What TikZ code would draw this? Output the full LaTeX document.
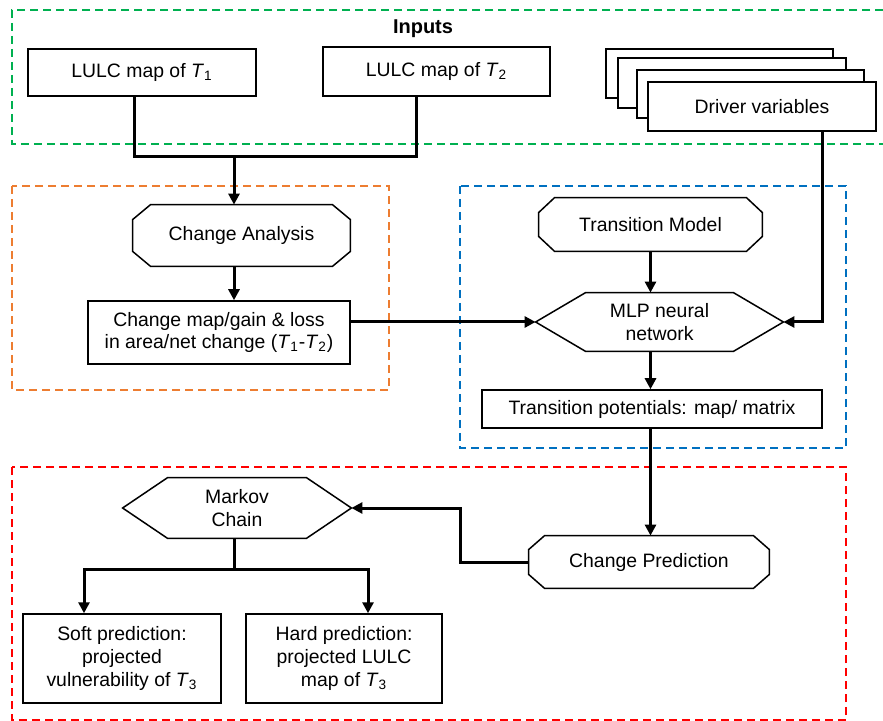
\documentclass[tikz,border=0pt]{standalone}
\usepackage{fontspec}
\setmainfont{Liberation Sans}
\usetikzlibrary{arrows.meta,calc}
\definecolor{cgreen}{RGB}{0,176,80}
\definecolor{corange}{RGB}{237,125,49}
\definecolor{cblue}{RGB}{0,112,192}
\definecolor{cred}{RGB}{255,0,0}
\newcommand{\Tsub}[1]{\textit{T}\textsubscript{#1}}
\newcommand{\octo}[3]{\draw[outline] ($(#1.north west)+(#2,0)$) -- ($(#1.north east)+(-#2,0)$) -- ($(#1.north east)+(0,#3)$) -- ($(#1.south east)+(0,-#3)$) -- ($(#1.south east)+(-#2,0)$) -- ($(#1.south west)+(#2,0)$) -- ($(#1.south west)+(0,-#3)$) -- ($(#1.north west)+(0,#3)$) -- cycle;}
\newcommand{\hexo}[2]{\draw[outline] (#1.west) -- ($(#1.north west)+(#2,0)$) -- ($(#1.north east)+(-#2,0)$) -- (#1.east) -- ($(#1.south east)+(-#2,0)$) -- ($(#1.south west)+(#2,0)$) -- cycle;}
\tikzset{
  lbl/.style={font=\fontsize{9.7}{11.4}\selectfont, align=center},
  box/.style={lbl, draw, line width=0.75pt, fill=white, inner sep=0pt},
  shp/.style={lbl, inner sep=0pt},
  outline/.style={draw, line width=0.75pt},
  sheet/.style={draw, line width=0.75pt, fill=white},
  grp/.style={dash pattern=on 4pt off 2.5pt, line width=1pt},
  conn/.style={line width=1.5pt},
  arr/.style={conn, -{Triangle[length=5.5pt,width=5.5pt]}},
}
\begin{document}
\begin{tikzpicture}[x=0.5pt,y=-0.5pt]
\useasboundingbox (0,0) rectangle (883,721);
% group frames
\draw[grp, cgreen] (883,10) -- (12,10) -- (12,144) -- (883,144);
\draw[grp, corange] (12,186) rectangle (389,390);
\draw[grp, cblue] (460,186) rectangle (846,448);
\draw[grp, cred] (12,467) rectangle (846,720);
\node[font=\bfseries\fontsize{10}{12}\selectfont] (inputs) at (423,29) {Inputs};
% inputs
\node[box, minimum width=114pt, minimum height=23.5pt] (t1) at (142,72.5) {LULC map of \Tsub{1}};
\node[box, minimum width=113.5pt, minimum height=24.5pt] (t2) at (436.5,71.5) {LULC map of \Tsub{2}};
\draw[sheet] (606,49) rectangle (833,98);
\draw[sheet] (618,58) rectangle (846,108);
\draw[sheet] (637,70) rectangle (864,118);
\node[box, minimum width=114pt, minimum height=24.5pt] (drv) at (762,106.5) {Driver variables};
% change analysis
\node[shp, minimum width=108.5pt, minimum height=30.5pt] (ca) at (241.5,235.5) {Change Analysis};
\octo{ca}{18}{15}
\node[box, minimum width=131pt, minimum height=31.5pt] (cm) at (219,332.5) {Change map/gain \& loss\\in area/net change (\Tsub{1}-\Tsub{2})};
% transition model
\node[shp, minimum width=111.5pt, minimum height=26.5pt] (tm) at (650.5,224.5) {Transition Model};
\octo{tm}{16}{15}
\node[shp, minimum width=123.5pt, minimum height=29pt] (mlp) at (659.5,322) {MLP neural\\network};
\hexo{mlp}{50}
\node[box, minimum width=170pt, minimum height=19pt] (tp) at (652,409) {Transition potentials: map/ matrix};
% prediction
\node[shp, minimum width=120pt, minimum height=26pt] (cp) at (649,562) {Change Prediction};
\octo{cp}{16}{14}
\node[shp, minimum width=114pt, minimum height=30pt] (mk) at (237,508) {Markov\\Chain};
\hexo{mk}{45}
\node[box, minimum width=99pt, minimum height=44.5pt] (soft) at (122,658.5) {Soft prediction:\\projected\\vulnerability of \Tsub{3}};
\node[box, minimum width=98pt, minimum height=44.5pt] (hard) at (344,658.5) {Hard prediction:\\projected LULC\\map of \Tsub{3}};
% connectors
\coordinate (join) at (234,157);
\draw[conn] ($(t1.south)+(-8,0)$) |- (join);
\draw[conn] ($(t2.south)+(-20.5,0)$) |- (join);
\draw[arr] (join) -- (join |- ca.north);
\draw[arr] (ca.south -| join) -- (cm.north -| join);
\draw[arr] (cm.east |- mlp.west) -- (mlp.west);
\draw[arr] ($(drv.south)+(60,0)$) |- (mlp.east);
\draw[arr] (tm.south) -- (tm.south |- mlp.north);
\draw[arr] (mlp.south -| tm.south) -- (tp.north -| tm.south);
\draw[arr] (tp.south -| tm.south) -- (cp.north -| tm.south);
\draw[arr] (cp.west) -- ++(-68,0) |- (mk.east);
\coordinate (split) at (234,569);
\draw[conn] (mk.south -| split) -- (split);
\draw[arr] (split) -| ($(soft.north)+(-38,0)$);
\draw[arr] (split) -| ($(hard.north)+(24,0)$);
\end{tikzpicture}
\end{document}
